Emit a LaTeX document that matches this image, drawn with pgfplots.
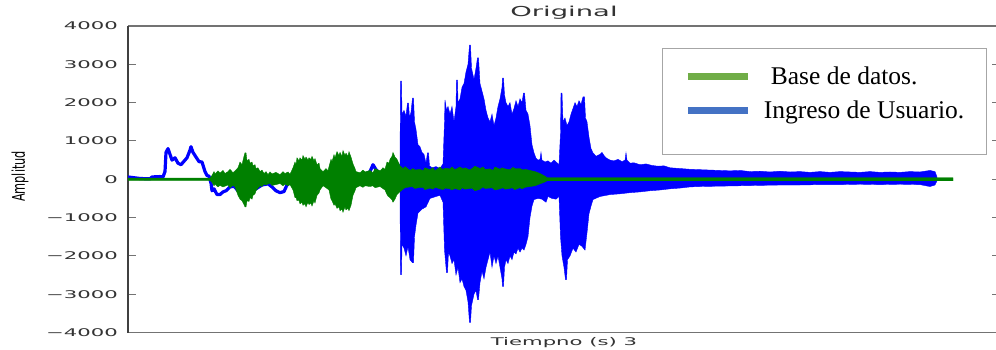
\documentclass[border=0pt]{standalone}
\usepackage{pgfplots}
\pgfplotsset{compat=1.18}
\usepackage{pgfplotstable}
\usepackage{graphicx}
\usepackage{fontspec}
\newfontfamily\mpl[FakeStretch=2.0]{DejaVu Sans}
\newfontfamily\mplplain{DejaVu Sans}
\newfontfamily\legfont{Liberation Serif}
\definecolor{mblue}{HTML}{0000FF}
\definecolor{mgreen}{HTML}{008000}
\definecolor{lgreen}{HTML}{70AD47}
\definecolor{lblue}{HTML}{4472C4}
\definecolor{txt}{HTML}{333333}

\pgfplotstableread{
x y
128 60
140 20
150 10
152 60
160 70
163 60
165 200
166 700
168 800
170 650
172 500
175 560
178 420
181 380
184 470
187 560
190 760
191 850
193 700
196 580
199 460
202 450
205 200
207 100
209 80
211 -100
212 -300
214 -250
217 -400
220 -400
223 -330
226 -300
230 -200
234 -180
238 -300
241 -420
245 -380
250 -300
256 -250
262 -150
268 -120
272 -200
276 -300
280 -350
284 -320
287 -150
292 -50
300 0
320 -80
340 0
360 50
370 200
373 380
376 250
380 150
390 250
398 300
}\blueslow

\pgfplotstableread{
x y
398 300
400 400
400.5 2560
401.5 2560
402 1700
404 1800
406 1650
407.5 1990
408.5 1990
409.5 1600
411 1750
412.5 2120
413.5 2120
414.5 1500
416 1300
418 900
420 850
422 700
424 650
426 420
427.5 690
428.5 690
429.5 350
432 300
436 330
440 280
443 400
444.5 1500
445 2070
446.5 1800
448 1900
450 1700
452 1900
454 1500
456 1900
456.5 2590
457.5 2590
458 2000
460 2100
462 2400
464 2500
466 2800
468 3000
469.5 3500
470.5 3500
471.5 2900
474 2600
476 2900
477.5 3170
478.5 3170
480 2500
482 2300
484 2100
486 1800
488 1600
490 1500
492 1700
494 1400
496 1600
498 1900
500 2100
502 2400
502.5 2640
503.5 2640
504.5 2200
506 2000
508 1900
510 2000
512 1700
514 1850
516 2050
518 1900
520 2100
522 2000
523.5 2250
524.5 2250
526 1800
528 1700
530 1400
532 900
534 690
536 550
538 500
540 520
541 700
542 500
545 450
548 480
551 420
554 500
557 430
559 380
560.5 1200
561 2250
562 2250
563 1500
565 1600
567 1400
569 1500
571 1700
573 1850
575 2000
577 1900
579 2050
581 1950
583 2150
584.5 2150
585.5 1600
587 1500
589 1100
591 800
593 690
596 600
600 650
602 700
604 620
606 560
610 500
614 480
618 520
622 460
625 500
626 690
627 500
630 420
634 430
640 380
646 400
652 360
658 340
664 350
670 300
680 280
690 260
700 250
710 240
720 230
730 220
740 230
750 200
760 210
770 190
780 210
790 190
800 200
810 180
820 200
830 180
840 200
850 190
860 180
870 200
880 180
890 190
900 180
910 200
920 190
930 230
935 200
937 60
937 -40
935 -150
930 -190
920 -140
900 -130
880 -140
860 -130
840 -140
820 -140
800 -150
780 -150
760 -160
740 -170
720 -180
700 -190
690 -200
680 -230
670 -250
660 -280
650 -300
640 -330
630 -350
620 -380
610 -400
600 -450
593 -530
591 -700
589 -900
587 -1400
585 -1850
582 -1750
579 -1700
576 -1900
573 -1800
570 -2000
567.5 -2100
566.5 -2620
565.5 -2620
564 -2300
562 -2000
560.5 -1500
559 -450
556 -520
552 -500
548 -450
546 -600
542 -520
538 -500
534 -530
532 -700
530 -1000
528 -1500
526 -1700
524 -1850
522 -1800
520 -1900
518 -1800
516 -1950
514 -1900
512 -2100
510 -2000
508 -2200
506 -2100
504.5 -2300
503.5 -2800
502.5 -2800
502 -2600
500 -2300
498 -2000
496 -2200
494 -2000
492 -2300
490 -1900
488 -2100
486 -2300
484 -2600
482 -2400
480 -2700
478.5 -3140
477.5 -3140
476 -2900
474 -3000
471.5 -3300
470.5 -3740
469.5 -3740
468 -3200
466 -2900
464 -2800
462 -2600
460 -2700
458 -2300
456 -2500
454 -2100
452 -2200
450 -2000
448.5 -1900
447.5 -2440
446.5 -2440
444.5 -1840
443 -600
440 -420
436 -450
430 -500
426 -720
422 -780
418 -880
416 -1200
414.5 -1500
413.5 -2180
412.5 -2180
410 -2100
408 -1760
406 -2000
404 -1800
402 -1700
401.5 -2490
400.5 -2490
400 -300
398 -200
}\bluepoly

\pgfplotstableread{
x y
128 30
210 30
212 100
214 200
215 140
218 220
220 160
223 230
225 150
228 200
230 260
233 170
235 220
238 300
240 450
242 380
244 600
245 690
246 690
247 480
249 520
250 420
252 450
253 350
255 380
256 280
258 300
260 200
262 240
264 150
266 200
268 120
270 190
272 140
276 180
280 120
283 200
285 150
288 190
290 130
293 300
295 450
296 380
297 560
299 480
300 560
302 500
303 620
305 520
306 580
308 500
309 560
311 520
312 600
314 480
315 540
317 380
319 420
320 280
323 200
326 280
328 220
329 330
331 520
332 460
334 640
335 560
337 720
339 620
340 700
342 600
343 750
345 620
346 680
348 600
349 720
351 580
353 400
355 280
356 200
360 170
363 240
365 190
370 230
373 170
375 280
380 220
383 300
385 260
387 450
389 420
390 520
392 600
393 700
395 580
397 520
400 350
403 280
405 330
410 230
413 280
415 240
420 260
423 220
425 300
430 250
433 300
435 220
440 320
443 250
445 290
450 270
452 320
455 250
460 320
463 270
465 300
470 240
473 300
475 340
480 280
483 320
485 260
490 270
493 230
495 320
500 260
502 300
505 270
510 250
513 310
515 280
520 280
523 240
525 260
530 230
535 200
540 150
545 80
547 40
953 40
953 -40
547 -40
545 -70
540 -120
535 -170
530 -190
525 -210
522 -250
520 -220
515 -270
512 -220
510 -240
505 -260
503 -220
500 -250
495 -280
492 -220
490 -230
485 -240
483 -200
480 -260
475 -300
472 -230
470 -240
465 -260
462 -220
460 -280
455 -240
452 -280
450 -250
445 -230
443 -270
440 -250
435 -210
433 -260
430 -230
425 -270
423 -210
420 -210
415 -240
412 -190
410 -200
405 -220
403 -260
400 -320
397 -400
395 -520
393 -600
392 -540
390 -480
388 -440
387 -400
385 -280
380 -190
375 -220
373 -170
370 -190
365 -170
363 -210
360 -170
356 -220
355 -300
353 -420
351 -680
349 -820
348 -760
346 -800
345 -720
343 -860
342 -780
340 -820
339 -720
337 -760
335 -640
334 -680
332 -560
331 -520
329 -280
326 -220
323 -170
320 -280
319 -360
317 -420
315 -620
314 -560
312 -700
311 -620
309 -660
308 -600
306 -720
305 -640
303 -680
302 -600
300 -640
299 -560
297 -560
296 -470
295 -480
293 -280
290 -140
288 -170
285 -130
283 -170
280 -110
276 -140
272 -160
270 -110
268 -120
266 -150
264 -130
262 -190
260 -170
258 -230
256 -300
255 -380
253 -420
252 -520
250 -480
249 -580
247 -560
246 -720
245 -720
244 -660
242 -560
240 -520
238 -420
235 -200
233 -160
230 -220
228 -150
225 -180
223 -200
220 -160
218 -200
215 -130
214 -170
212 -80
210 -30
128 -30
}\greenpoly

\begin{document}
\begin{tikzpicture}
\useasboundingbox (0,0) rectangle (996pt,349pt);
\clip (0,0) rectangle (996pt,349pt);
\begin{axis}[
  at={(128pt,16.5pt)}, anchor=south west,
  scale only axis, width=872pt, height=306.5pt,
  xmin=128, xmax=1000, ymin=-4000, ymax=4000,
  xtick=\empty,
  ytick={-4000,-3000,-2000,-1000,0,1000,2000,3000,4000},
  yticklabels={−4000,−3000,−2000,−1000,0,1000,2000,3000,4000},
  tick align=inside, major tick length=8pt,
  major tick style={black!55, line width=1pt},
  separate axis lines,
  every outer x axis line/.append style={black!55, line width=1.4pt},
  every outer y axis line/.append style={black!75, line width=1.8pt},
  yticklabel style={font=\mpl\fontsize{10.6}{12}\selectfont, text=txt, inner sep=0pt, xshift=-10pt},
  title={Original},
  title style={font=\mpl\fontsize{13.7}{15}\selectfont, text=txt, at={(axis description cs:0.5,1)}, anchor=base, yshift=3.3pt, inner sep=0pt},
  xlabel={Tiempno (s) 3},
  xlabel style={font=\mpl\fontsize{10.6}{12}\selectfont, text=txt, at={(axis description cs:0.5,0)}, anchor=base, yshift=-12.5pt, inner sep=0pt},
  ylabel={\scalebox{1}[1.55]{\mplplain\fontsize{11.3}{13}\selectfont Amplitud}},
  ylabel style={at={(axis description cs:-0.1239,0.509)}, anchor=center, inner sep=0pt},
  legend cell align=left,
  legend image code/.code={\draw[#1, line width=6.5pt] (0pt,8pt) -- (60pt,8pt);},
  legend style={at={(rel axis cs:0.6124,0.9282)}, anchor=north west,
    draw=black!35, line width=1.3pt, fill=white,
    inner xsep=22pt, inner ysep=0pt, row sep=0pt, column sep=12.7pt,
    nodes={inner sep=0pt, anchor=base west, text depth={}, text height={}},
    font=\legfont\fontsize{25.5}{30}\selectfont},
]
\addlegendimage{lgreen}
\addlegendentry{\rule[-8pt]{0pt}{44pt}\hspace{7pt}Base de datos.}
\addlegendimage{lblue}
\addlegendentry{\rule[-36pt]{0pt}{62pt}Ingreso de Usuario.}
\addplot[mblue, line width=3.2pt, line join=round, forget plot] table {\blueslow};
\addplot[draw=mblue, fill=mblue, line width=0.4pt, forget plot] table {\bluepoly};
\addplot[draw=mgreen, fill=mgreen, line width=0.4pt, forget plot] table {\greenpoly};
\end{axis}
\end{tikzpicture}
\end{document}
